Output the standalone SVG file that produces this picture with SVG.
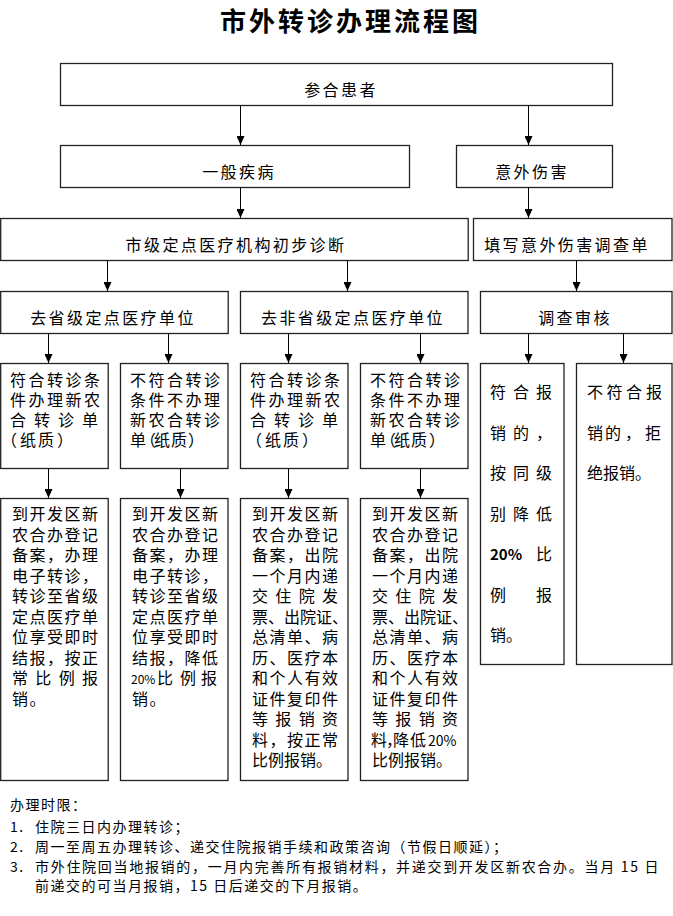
<svg xmlns="http://www.w3.org/2000/svg" width="673" height="916" viewBox="0 0 673 916">
<defs>
<marker id="arr" markerUnits="userSpaceOnUse" markerWidth="9" markerHeight="8" refX="9" refY="4" orient="auto">
<path d="M0,0 L9,4 L0,8 z" fill="#000"/>
</marker>
<style>
.box{fill:#fff;stroke:#222;stroke-width:1.3}
.c{stroke:#000;stroke-width:1;fill:none;marker-end:url(#arr)}
text{font-family:"Noto Sans CJK SC","Noto Sans",sans-serif;fill:#000}
.title{font-size:26px;font-weight:700;letter-spacing:3px;text-anchor:middle}
.lbl{font-size:16px;letter-spacing:2.4px;text-anchor:middle}
.t2{font-size:16px;letter-spacing:2.5px}
.t3{font-size:16px;letter-spacing:1.5px}
.t0{letter-spacing:0}
.n{font-size:14px;letter-spacing:1.5px}
.pct{font-size:12px;letter-spacing:0}
.pctb{font-size:15px;font-weight:700;letter-spacing:0}
</style>
</defs>
<rect width="673" height="916" fill="#fff"/>

<text class="title" x="350.5" y="31">市外转诊办理流程图</text>

<g id="n-canhe">
<rect class="box" x="60.5" y="63.5" width="552" height="42"/>
<text class="lbl" x="341" y="96">参合患者</text>
</g>
<g id="n-yiban">
<rect class="box" x="60.5" y="145.5" width="349" height="42"/>
<text class="lbl" x="239" y="178">一般疾病</text>
</g>
<g id="n-yiwai">
<rect class="box" x="456.5" y="145.5" width="156" height="42"/>
<text class="lbl" x="532" y="178">意外伤害</text>
</g>
<g id="n-shiji">
<rect class="box" x="0.7" y="218.5" width="467.5" height="42"/>
<text class="lbl" x="236" y="251">市级定点医疗机构初步诊断</text>
</g>
<g id="n-tianxie">
<rect class="box" x="473.5" y="218.5" width="198.5" height="42"/>
<text class="lbl" x="567" y="251">填写意外伤害调查单</text>
</g>
<g id="n-qusheng">
<rect class="box" x="0.7" y="291.5" width="227.5" height="42"/>
<text class="lbl" x="113" y="324">去省级定点医疗单位</text>
</g>
<g id="n-qufei">
<rect class="box" x="240.5" y="291.5" width="227.5" height="42"/>
<text class="lbl" x="353" y="324">去非省级定点医疗单位</text>
</g>
<g id="n-diaocha">
<rect class="box" x="480.5" y="291.5" width="191.5" height="42"/>
<text class="lbl" x="575" y="324">调查审核</text>
</g>

<g id="n-a1">
<rect class="box" x="0.7" y="363.5" width="107.5" height="105"/>
<text class="t2">
<tspan x="10" y="386">符合转诊条</tspan>
<tspan x="10" y="406">件办理新农</tspan>
<tspan x="10 34 58 82" y="426">合转诊单</tspan>
<tspan x="1 20 38 57" y="446">（纸质）</tspan>
</text>
</g>
<g id="n-a2">
<rect class="box" x="120.5" y="363.5" width="107.5" height="105"/>
<text class="t2">
<tspan x="130" y="386">不符合转诊</tspan>
<tspan x="130" y="406">条件不办理</tspan>
<tspan x="130" y="426">新农合转诊</tspan>
<tspan x="130 140 154 171 188" y="446">单（纸质）</tspan>
</text>
</g>
<g id="n-a3">
<rect class="box" x="240.5" y="363.5" width="107.5" height="105"/>
<text class="t2">
<tspan x="250" y="386">符合转诊条</tspan>
<tspan x="250" y="406">件办理新农</tspan>
<tspan x="250 274 298 322" y="426">合转诊单</tspan>
<tspan x="246 265 283 302" y="446">（纸质）</tspan>
</text>
</g>
<g id="n-a4">
<rect class="box" x="360.5" y="363.5" width="107.5" height="105"/>
<text class="t2">
<tspan x="370" y="386">不符合转诊</tspan>
<tspan x="370" y="406">条件不办理</tspan>
<tspan x="370" y="426">新农合转诊</tspan>
<tspan x="370 380 394 411 429" y="446">单（纸质）</tspan>
</text>
</g>

<g id="n-b1">
<rect class="box" x="0.7" y="498.5" width="107.5" height="282"/>
<text class="t3">
<tspan x="12" y="520">到开发区新</tspan>
<tspan x="12" y="540.5">农合办登记</tspan>
<tspan x="12" y="561">备案，办理</tspan>
<tspan x="12" y="581.5">电子转诊，</tspan>
<tspan x="12" y="602">转诊至省级</tspan>
<tspan x="12" y="622.5">定点医疗单</tspan>
<tspan x="12" y="643">位享受即时</tspan>
<tspan x="12" y="663.5">结报，按正</tspan>
<tspan x="12 35.3 58.7 82" y="684">常比例报</tspan>
<tspan x="12" y="704.5">销。</tspan>
</text>
</g>
<g id="n-b2">
<rect class="box" x="120.5" y="498.5" width="107.5" height="282"/>
<text class="t3">
<tspan x="132" y="520">到开发区新</tspan>
<tspan x="132" y="540.5">农合办登记</tspan>
<tspan x="132" y="561">备案，办理</tspan>
<tspan x="132" y="581.5">电子转诊，</tspan>
<tspan x="132" y="602">转诊至省级</tspan>
<tspan x="132" y="622.5">定点医疗单</tspan>
<tspan x="132" y="643">位享受即时</tspan>
<tspan x="132" y="663.5">结报，降低</tspan>
<tspan class="pct" x="131" y="684">20%</tspan><tspan x="157" y="684">比</tspan><tspan x="180" y="684">例</tspan><tspan x="201" y="684">报</tspan>
<tspan x="132" y="704.5">销。</tspan>
</text>
</g>
<g id="n-b3">
<rect class="box" x="240.5" y="498.5" width="107.5" height="282"/>
<text class="t3">
<tspan x="252" y="520">到开发区新</tspan>
<tspan x="252" y="540.5">农合办登记</tspan>
<tspan x="252" y="561">备案，出院</tspan>
<tspan x="252" y="581.5">一个月内递</tspan>
<tspan x="252 275.3 298.7 322" y="602">交住院发</tspan>
<tspan class="t0" x="252" y="622.5">票、出院证、</tspan>
<tspan x="252" y="643">总清单、病</tspan>
<tspan x="252" y="663.5">历、医疗本</tspan>
<tspan x="252" y="684">和个人有效</tspan>
<tspan x="252" y="704.5">证件复印件</tspan>
<tspan x="252 275.3 298.7 322" y="725">等报销资</tspan>
<tspan x="252" y="745.5">料，按正常</tspan>
<tspan class="t0" x="252" y="766">比例报销。</tspan>
</text>
</g>
<g id="n-b4">
<rect class="box" x="360.5" y="498.5" width="107.5" height="282"/>
<text class="t3">
<tspan x="372" y="520">到开发区新</tspan>
<tspan x="372" y="540.5">农合办登记</tspan>
<tspan x="372" y="561">备案，出院</tspan>
<tspan x="372" y="581.5">一个月内递</tspan>
<tspan x="372 395.3 418.7 442" y="602">交住院发</tspan>
<tspan class="t0" x="372" y="622.5">票、出院证、</tspan>
<tspan x="372" y="643">总清单、病</tspan>
<tspan x="372" y="663.5">历、医疗本</tspan>
<tspan x="372" y="684">和个人有效</tspan>
<tspan x="372" y="704.5">证件复印件</tspan>
<tspan x="372 395.3 418.7 442" y="725">等报销资</tspan>
<tspan class="t0" x="371 386 393 410" y="745.5">料，降低</tspan><tspan class="t0" style="font-size:14px" x="428" y="745.5">20%</tspan>
<tspan class="t0" x="372" y="766">比例报销。</tspan>
</text>
</g>

<g id="n-c1">
<rect class="box" x="480.5" y="363.5" width="83.5" height="301"/>
<text class="t3">
<tspan x="490 513 536" y="398">符合报</tspan>
<tspan x="490 513 536" y="438.5">销的，</tspan>
<tspan x="490 513 536" y="479">按同级</tspan>
<tspan x="490 513 536" y="519.5">别降低</tspan>
<tspan class="pctb" x="490" y="560">20%</tspan><tspan x="536" y="560">比</tspan>
<tspan x="490 536" y="600.5">例报</tspan>
<tspan x="490 506" y="641">销。</tspan>
</text>
</g>
<g id="n-c2">
<rect class="box" x="576.5" y="363.5" width="95.5" height="301"/>
<text class="t3">
<tspan x="587 606.5 626 646" y="398">不符合报</tspan>
<tspan x="587 605 625 645" y="438.5">销的，拒</tspan>
<tspan x="587 603 619 635" y="479">绝报销。</tspan>
</text>
</g>

<g id="connectors">
<line class="c" x1="240.5" y1="105.5" x2="240.5" y2="145"/>
<line class="c" x1="528.5" y1="105.5" x2="528.5" y2="145"/>
<line class="c" x1="240.5" y1="187.5" x2="240.5" y2="218"/>
<line class="c" x1="528.5" y1="187.5" x2="528.5" y2="218"/>
<line class="c" x1="107.5" y1="260.5" x2="107.5" y2="291"/>
<line class="c" x1="347.5" y1="260.5" x2="347.5" y2="291"/>
<line class="c" x1="576.5" y1="260.5" x2="576.5" y2="291"/>
<line class="c" x1="48.5" y1="333.5" x2="48.5" y2="363"/>
<line class="c" x1="168.5" y1="333.5" x2="168.5" y2="363"/>
<line class="c" x1="288.5" y1="333.5" x2="288.5" y2="363"/>
<line class="c" x1="420.5" y1="333.5" x2="420.5" y2="363"/>
<line class="c" x1="528.5" y1="333.5" x2="528.5" y2="363"/>
<line class="c" x1="623.5" y1="333.5" x2="623.5" y2="363"/>
<line class="c" x1="48.5" y1="468.5" x2="48.5" y2="498"/>
<line class="c" x1="180.5" y1="468.5" x2="180.5" y2="498"/>
<line class="c" x1="288.5" y1="468.5" x2="288.5" y2="498"/>
<line class="c" x1="420.5" y1="468.5" x2="420.5" y2="498"/>
</g>

<g id="notes">
<text class="n" x="10" y="810">办理时限：</text>
<text class="n" x="10" y="832">1.</text>
<text class="n" x="35" y="832">住院三日内办理转诊；</text>
<text class="n" x="10" y="852">2.</text>
<text class="n" x="35" y="852">周一至周五办理转诊、递交住院报销手续和政策咨询（节假日顺延）；</text>
<text class="n" x="10" y="872">3.</text>
<text class="n" x="35" y="872" textLength="625" lengthAdjust="spacing">市外住院回当地报销的，一月内完善所有报销材料，并递交到开发区新农合办。当月 15 日</text>
<text class="n" x="35" y="891">前递交的可当月报销，15 日后递交的下月报销。</text>
</g>
</svg>
